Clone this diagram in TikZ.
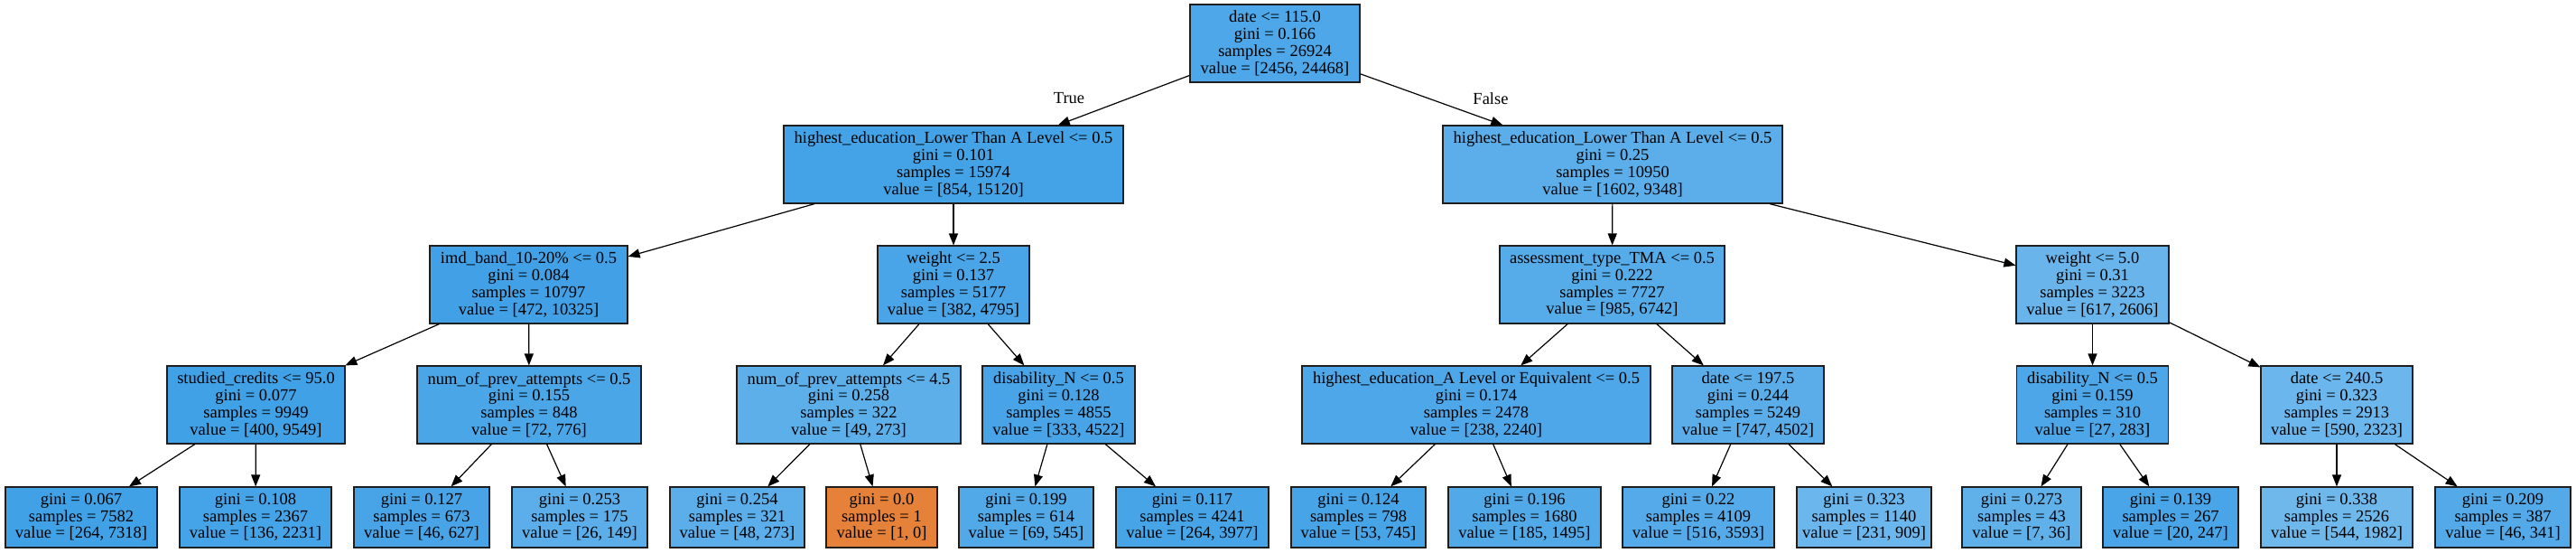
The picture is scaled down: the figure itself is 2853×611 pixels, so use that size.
\documentclass[tikz,border=0pt]{standalone}
\usepackage{fontspec}
\setmainfont{Liberation Serif}
\usetikzlibrary{arrows.meta}
\definecolor{bord}{RGB}{30,30,30}
\definecolor{cR}{RGB}{77,167,232}
\definecolor{cA}{RGB}{68,163,230}
\definecolor{cB}{RGB}{91,174,233}
\definecolor{cC}{RGB}{66,161,230}
\definecolor{cD}{RGB}{73,165,231}
\definecolor{cE}{RGB}{86,171,233}
\definecolor{cF}{RGB}{104,180,235}
\definecolor{cG}{RGB}{65,161,230}
\definecolor{cH}{RGB}{75,166,231}
\definecolor{cI}{RGB}{93,175,234}
\definecolor{cJ}{RGB}{72,164,231}
\definecolor{cK}{RGB}{78,167,232}
\definecolor{cL}{RGB}{90,173,233}
\definecolor{cM}{RGB}{76,166,231}
\definecolor{cN}{RGB}{107,182,236}
\definecolor{l1c}{RGB}{64,161,230}
\definecolor{l2c}{RGB}{69,163,231}
\definecolor{l3c}{RGB}{72,164,231}
\definecolor{l4c}{RGB}{92,174,234}
\definecolor{l5c}{RGB}{92,174,234}
\definecolor{l6c}{RGB}{229,129,57}
\definecolor{l7c}{RGB}{82,169,232}
\definecolor{l8c}{RGB}{70,164,231}
\definecolor{l9c}{RGB}{71,164,231}
\definecolor{l10c}{RGB}{82,169,232}
\definecolor{l11c}{RGB}{85,171,233}
\definecolor{l12c}{RGB}{107,182,236}
\definecolor{l13c}{RGB}{96,176,234}
\definecolor{l14c}{RGB}{73,165,231}
\definecolor{l15c}{RGB}{111,184,236}
\definecolor{l16c}{RGB}{84,170,233}
\tikzset{
  tn/.style={draw=bord, line width=1.2pt, rectangle, inner sep=0pt, align=center,
    minimum height=86pt, font=\fontsize{18.5}{18.67}\selectfont},
  lf/.style={tn, minimum height=67pt},
  edgelbl/.style={inner sep=0pt, font=\fontsize{18.5}{18.67}\selectfont},
  conn/.style={draw=black, line width=1.2pt, -{Triangle[length=13pt,width=10pt]}}
}
\begin{document}
\begin{tikzpicture}[x=1pt,y=-1pt]
\fill[white] (0,0) rectangle (2853,611);
\useasboundingbox (0,0) rectangle (2853,611);
% level 1
\node[tn, fill=cR, minimum width=188pt] (root) at (1412,48) {date <= 115.0\\gini = 0.166\\samples = 26924\\value = [2456, 24468]};
% level 2
\node[tn, fill=cA, minimum width=376pt] (a) at (1056,182) {highest\_education\_Lower Than A Level <= 0.5\\gini = 0.101\\samples = 15974\\value = [854, 15120]};
\node[tn, fill=cB, minimum width=376pt] (b) at (1786,182) {highest\_education\_Lower Than A Level <= 0.5\\gini = 0.25\\samples = 10950\\value = [1602, 9348]};
% level 3
\node[tn, fill=cC, minimum width=219pt] (aa) at (585.5,315) {imd\_band\_10-20\% <= 0.5\\gini = 0.084\\samples = 10797\\value = [472, 10325]};
\node[tn, fill=cD, minimum width=168pt] (ab) at (1056,315) {weight <= 2.5\\gini = 0.137\\samples = 5177\\value = [382, 4795]};
\node[tn, fill=cE, minimum width=249pt] (ba) at (1785.5,315) {assessment\_type\_TMA <= 0.5\\gini = 0.222\\samples = 7727\\value = [985, 6742]};
\node[tn, fill=cF, minimum width=169pt] (bb) at (2317.5,315) {weight <= 5.0\\gini = 0.31\\samples = 3223\\value = [617, 2606]};
% level 4
\node[tn, fill=cG, minimum width=197pt] (aaa) at (283.5,448) {studied\_credits <= 95.0\\gini = 0.077\\samples = 9949\\value = [400, 9549]};
\node[tn, fill=cH, minimum width=248pt] (aab) at (586,448) {num\_of\_prev\_attempts <= 0.5\\gini = 0.155\\samples = 848\\value = [72, 776]};
\node[tn, fill=cI, minimum width=248pt] (aba) at (940,448) {num\_of\_prev\_attempts <= 4.5\\gini = 0.258\\samples = 322\\value = [49, 273]};
\node[tn, fill=cJ, minimum width=169pt] (abb) at (1172.5,448) {disability\_N <= 0.5\\gini = 0.128\\samples = 4855\\value = [333, 4522]};
\node[tn, fill=cK, minimum width=386pt] (baa) at (1635,448) {highest\_education\_A Level or Equivalent <= 0.5\\gini = 0.174\\samples = 2478\\value = [238, 2240]};
\node[tn, fill=cL, minimum width=168pt] (bab) at (1936,448) {date <= 197.5\\gini = 0.244\\samples = 5249\\value = [747, 4502]};
\node[tn, fill=cM, minimum width=168pt] (bba) at (2317.5,448) {disability\_N <= 0.5\\gini = 0.159\\samples = 310\\value = [27, 283]};
\node[tn, fill=cN, minimum width=168pt] (bbb) at (2588,448) {date <= 240.5\\gini = 0.323\\samples = 2913\\value = [590, 2323]};
% leaves
\node[lf, fill=l1c, minimum width=168pt] (l1) at (90,572.5) {gini = 0.067\\samples = 7582\\value = [264, 7318]};
\node[lf, fill=l2c, minimum width=168pt] (l2) at (283,572.5) {gini = 0.108\\samples = 2367\\value = [136, 2231]};
\node[lf, fill=l3c, minimum width=150pt] (l3) at (467,572.5) {gini = 0.127\\samples = 673\\value = [46, 627]};
\node[lf, fill=l4c, minimum width=150pt] (l4) at (642,572.5) {gini = 0.253\\samples = 175\\value = [26, 149]};
\node[lf, fill=l5c, minimum width=149pt] (l5) at (816.5,572.5) {gini = 0.254\\samples = 321\\value = [48, 273]};
\node[lf, fill=l6c, minimum width=123pt] (l6) at (976.5,572.5) {gini = 0.0\\samples = 1\\value = [1, 0]};
\node[lf, fill=l7c, minimum width=149pt] (l7) at (1136.5,572.5) {gini = 0.199\\samples = 614\\value = [69, 545]};
\node[lf, fill=l8c, minimum width=169pt] (l8) at (1320.5,572.5) {gini = 0.117\\samples = 4241\\value = [264, 3977]};
\node[lf, fill=l9c, minimum width=149pt] (l9) at (1504.5,572.5) {gini = 0.124\\samples = 798\\value = [53, 745]};
\node[lf, fill=l10c, minimum width=169pt] (l10) at (1688.5,572.5) {gini = 0.196\\samples = 1680\\value = [185, 1495]};
\node[lf, fill=l11c, minimum width=168pt] (l11) at (1881,572.5) {gini = 0.22\\samples = 4109\\value = [516, 3593]};
\node[lf, fill=l12c, minimum width=149pt] (l12) at (2064.5,572.5) {gini = 0.323\\samples = 1140\\value = [231, 909]};
\node[lf, fill=l13c, minimum width=132pt] (l13) at (2239,572.5) {gini = 0.273\\samples = 43\\value = [7, 36]};
\node[lf, fill=l14c, minimum width=150pt] (l14) at (2404,572.5) {gini = 0.139\\samples = 267\\value = [20, 247]};
\node[lf, fill=l15c, minimum width=168pt] (l15) at (2588,572.5) {gini = 0.338\\samples = 2526\\value = [544, 1982]};
\node[lf, fill=l16c, minimum width=150pt] (l16) at (2772,572.5) {gini = 0.209\\samples = 387\\value = [46, 341]};
% edge labels
\node[edgelbl] (lblT) at (1184,109) {True};
\node[edgelbl] (lblF) at (1651,109) {False};
% connectors
\draw[conn] (root) -- (a);
\draw[conn] (root) -- (b);
\draw[conn] (a) -- (aa);
\draw[conn] (a) -- (ab);
\draw[conn] (b) -- (ba);
\draw[conn] (b) -- (bb);
\draw[conn] (aa) -- (aaa);
\draw[conn] (aa) -- (aab);
\draw[conn] (ab) -- (aba);
\draw[conn] (ab) -- (abb);
\draw[conn] (ba) -- (baa);
\draw[conn] (ba) -- (bab);
\draw[conn] (bb) -- (bba);
\draw[conn] (bb) -- (bbb);
\draw[conn] (aaa) -- (l1);
\draw[conn] (aaa) -- (l2);
\draw[conn] (aab) -- (l3);
\draw[conn] (aab) -- (l4);
\draw[conn] (aba) -- (l5);
\draw[conn] (aba) -- (l6);
\draw[conn] (abb) -- (l7);
\draw[conn] (abb) -- (l8);
\draw[conn] (baa) -- (l9);
\draw[conn] (baa) -- (l10);
\draw[conn] (bab) -- (l11);
\draw[conn] (bab) -- (l12);
\draw[conn] (bba) -- (l13);
\draw[conn] (bba) -- (l14);
\draw[conn] (bbb) -- (l15);
\draw[conn] (bbb) -- (l16);
\end{tikzpicture}
\end{document}
